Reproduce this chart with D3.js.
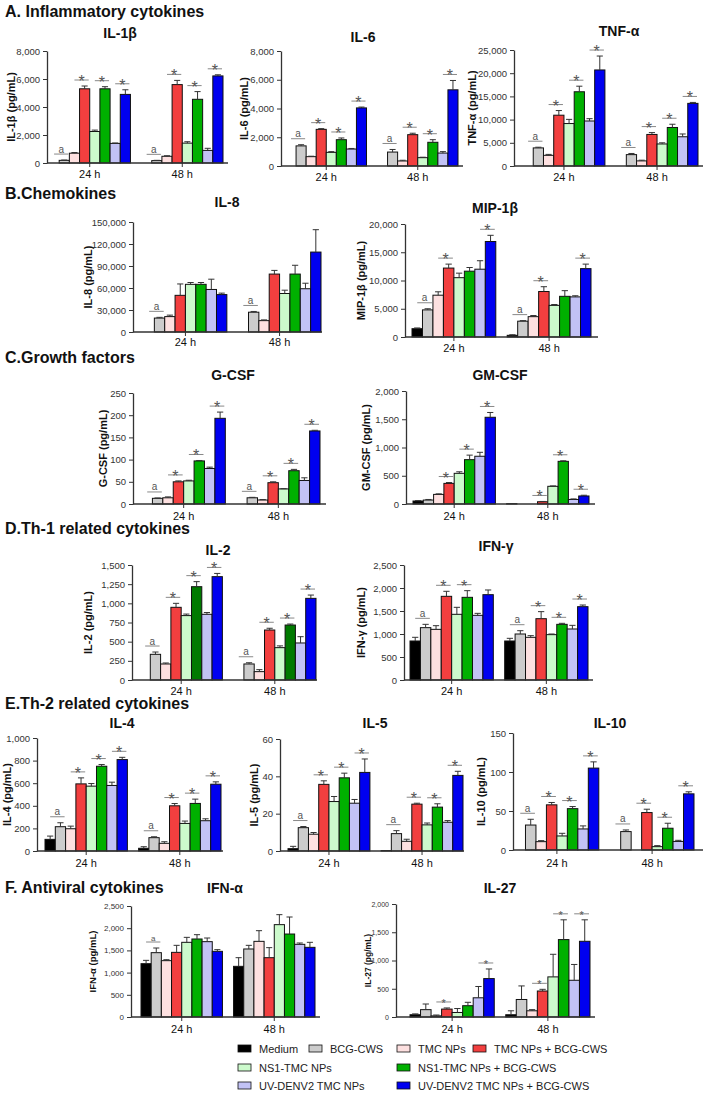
<!DOCTYPE html>
<html>
<head>
<meta charset="utf-8">
<script src="https://cdn.jsdelivr.net/npm/d3@7"></script>
<style>
body { margin: 0; background: #fff; }
svg { display: block; font-family: Arial, "Liberation Sans", sans-serif; }
</style>
</head>
<body>
<svg id="fig" width="706" height="1093"></svg>
<script>
// groups, time points and colours
const groups = ["Medium", "BCG-CWS", "TMC NPs", "TMC NPs + BCG-CWS", "NS1-TMC NPs",
  "NS1-TMC NPs + BCG-CWS", "UV-DENV2 TMC NPs", "UV-DENV2 TMC NPs + BCG-CWS"];
const timepoints = ["24 h", "48 h"];
const colors = ["#000000", "#cccccc", "#fde0e0", "#f23f3f", "#ccfacc", "#00b000", "#c2c2f5", "#0000f0"];

// values: [24 h, 48 h], 8 groups each, mean and upper error
const il1b = [[0, 190, 700, 5300, 2250, 5300, 1400, 4900], [0, 170, 480, 5600, 1420, 4550, 900, 6220]];
const il1bErr = [[0, 20, 50, 200, 100, 150, 30, 330], [0, 20, 40, 300, 100, 550, 150, 80]];
const il6 = [[0, 1400, 650, 2550, 950, 1830, 1180, 4040], [0, 970, 350, 2180, 580, 1650, 900, 5300]];
const il6Err = [[0, 80, 30, 50, 50, 120, 40, 60], [0, 180, 50, 100, 30, 180, 100, 650]];
const tnf = [[0, 3900, 2300, 10950, 9150, 16000, 9700, 20700], [0, 2450, 1100, 6800, 4750, 8300, 6300, 13500]];
const tnfErr = [[0, 150, 200, 1000, 900, 1200, 500, 3000], [0, 250, 150, 400, 250, 700, 600, 200]];
const il8 = [[0, 19000, 21000, 50000, 65000, 65000, 58000, 51000], [0, 27000, 15500, 79000, 52500, 79000, 59000, 109000]];
const il8Err = [[0, 1000, 2000, 15500, 2500, 2500, 14000, 2000], [0, 1000, 1000, 5000, 4500, 12000, 7500, 30500]];
const mip = [[1470, 4800, 7400, 12200, 10500, 11650, 12000, 16900], [300, 2800, 3600, 8050, 5600, 7200, 7100, 12100]];
const mipErr = [[130, 200, 600, 700, 800, 650, 1500, 1100], [100, 100, 200, 850, 150, 1000, 200, 800]];
const gcsf = [[0, 12.8, 14, 50, 52, 97, 80, 193], [0, 14, 9, 48, 34, 75, 53, 164.5]];
const gcsfErr = [[0, 0.8, 2, 2, 1.5, 1, 3, 14], [0, 1, 1, 2, 0.5, 3, 6, 1.5]];
const gmcsf = [[53, 70, 170, 365, 543, 785, 845, 1535], [5, 0, 0, 40, 313, 755, 80, 142]];
const gmcsfErr = [[7, 10, 10, 15, 27, 80, 70, 85], [0, 0, 0, 5, 7, 10, 10, 13]];
const il2 = [[0, 335, 209, 948, 840, 1217, 857, 1348], [0, 209, 109, 652, 422, 717, 483, 1065]];
const il2Err = [[0, 30, 13, 52, 20, 66, 23, 42], [0, 16, 26, 23, 23, 13, 82, 43]];
const ifng = [[848, 1138, 1101, 1819, 1428, 1797, 1406, 1855], [848, 1000, 928, 1333, 986, 1210, 1109, 1594]];
const ifngErr = [[80, 72, 80, 109, 152, 145, 43, 102], [58, 72, 36, 153, 14, 22, 79, 36]];
const il4 = [[103, 215, 197, 594, 574, 750, 580, 809], [24, 118, 68, 400, 244, 421, 268, 591]];
const il4Err = [[29, 35, 23, 53, 23, 15, 29, 20], [14, 8, 14, 20, 21, 38, 17, 21]];
const il5 = [[1.25, 12.5, 9, 35.7, 26.5, 39.2, 25.6, 42.1], [0.2, 9.3, 5.2, 25.1, 14, 23.5, 15.4, 40.5]];
const il5Err = [[1.25, 0.6, 0.9, 1.9, 2.7, 2.5, 2, 7.2], [0, 1.6, 1.1, 0.5, 1, 1.8, 0.9, 2.2]];
const il10 = [[0, 32, 10.7, 57.9, 18, 53, 27, 105], [0, 23.6, 0, 48, 4.3, 27.9, 11, 72]];
const il10Err = [[0, 7.4, 1.3, 3, 3.4, 2.7, 3.9, 8], [0, 2.1, 0, 4.3, 1.3, 6.4, 1.4, 2.6]];
const ifna = [[1201, 1449, 1269, 1456, 1682, 1757, 1697, 1479], [1141, 1532, 1704, 1336, 2080, 1869, 1637, 1569]];
const ifnaErr = [[75, 105, 22, 158, 112, 97, 82, 38], [195, 82, 240, 226, 225, 383, 30, 113]];
const il27 = [[40, 130, 20, 140, 80, 200, 340, 680], [40, 310, 110, 460, 710, 1370, 650, 1340]];
const il27Err = [[15, 100, 15, 20, 70, 60, 200, 170], [70, 240, 20, 30, 400, 350, 280, 380]];

// significance marks: [bar index, symbol] per time point
const sigFull = [[1, "a"], [3, "*"], [5, "*"], [7, "*"]];
const sigA = [[1, "a"]];
const sigMip = [[1, "a"], [3, "*"], [7, "*"]];
const sigStars = [[3, "*"], [5, "*"], [7, "*"]];
const sigIfng24 = [[1, "a"], [3, "*"], [5, "*"]];
const sigIl27_24 = [[3, "*"], [7, "*"]];

// tick values
const ticks8k = [0, 2000, 4000, 6000, 8000];
const ticksTnf = [0, 5000, 10000, 15000, 20000, 25000];
const ticksIl8 = [0, 30000, 60000, 90000, 120000, 150000];
const ticksMip = [0, 5000, 10000, 15000, 20000];
const ticksGcsf = [0, 50, 100, 150, 200, 250];
const ticks2k = [0, 500, 1000, 1500, 2000];
const ticksIl2 = [0, 250, 500, 750, 1000, 1250, 1500];
const ticks2500 = [0, 500, 1000, 1500, 2000, 2500];
const ticksIl4 = [0, 200, 400, 600, 800, 1000];
const ticksIl5 = [0, 20, 40, 60];
const ticksIl10 = [0, 50, 100, 150];

const headers = [
  ["A. Inflammatory cytokines", 17],
  ["B.Chemokines", 199],
  ["C.Growth factors", 363],
  ["D.Th-1 related cytokines", 534],
  ["E.Th-2 related cytokines", 709],
  ["F. Antiviral cytokines", 893]
];

const charts = [
  {title: "IL-1β", yl: "IL-1β (pg/mL)", v: il1b, e: il1bErr, t: ticks8k, s: [sigFull, sigFull],
   L: 47, R: 228, top: 51, bot: 163, bars: [49, 223], tx: 120, ty: 38, lx: 11, xy: 178},
  {title: "IL-6", yl: "IL-6 (pg/mL)", v: il6, e: il6Err, t: ticks8k, s: [sigFull, sigFull],
   L: 281, R: 463, top: 51, bot: 166, bars: [286, 458], tx: 363, ty: 42, lx: 244, xy: 181},
  {title: "TNF-α", yl: "TNF-α (pg/mL)", v: tnf, e: tnfErr, t: ticksTnf, s: [sigFull, sigFull],
   L: 514, R: 703, top: 50, bot: 166, bars: [523, 698], tx: 619, ty: 36, lx: 472, xy: 181},
  {title: "IL-8", yl: "IL-8 (pg/mL)", v: il8, e: il8Err, t: ticksIl8, s: [sigA, sigA],
   L: 133, R: 322, top: 222, bot: 332, bars: [144, 321], tx: 227, ty: 207, lx: 88, xy: 346},
  {title: "MIP-1β", yl: "MIP-1β (pg/mL)", v: mip, e: mipErr, t: ticksMip, s: [sigMip, sigMip],
   L: 405, R: 598, top: 224, bot: 337, bars: [412, 591], tx: 495, ty: 213, lx: 361, xy: 352},
  {title: "G-CSF", yl: "G-CSF (pg/mL)", v: gcsf, e: gcsfErr, t: ticksGcsf, s: [sigFull, sigFull],
   L: 133, R: 326, top: 393, bot: 504, bars: [142, 320], tx: 233, ty: 380, lx: 103, xy: 520},
  {title: "GM-CSF", yl: "GM-CSF (pg/mL)", v: gmcsf, e: gmcsfErr, t: ticks2k, s: [sigStars, sigStars],
   L: 406, R: 595, top: 391, bot: 504, bars: [413, 589], tx: 500, ty: 380, lx: 366, xy: 520},
  {title: "IL-2", yl: "IL-2 (pg/mL)", v: il2, e: il2Err, t: ticksIl2, s: [sigFull, sigFull], dark: true,
   L: 132, R: 317, top: 565, bot: 680, bars: [140, 316], tx: 218, ty: 555, lx: 88, xy: 695},
  {title: "IFN-γ", yl: "IFN-γ (pg/mL)", v: ifng, e: ifngErr, t: ticks2500, s: [sigIfng24, sigFull],
   L: 404, R: 593, top: 565, bot: 680, bars: [410, 588], tx: 496, ty: 551, lx: 361, xy: 695},
  {title: "IL-4", yl: "IL-4 (pg/mL)", v: il4, e: il4Err, t: ticksIl4, s: [sigFull, sigFull],
   L: 37, R: 223, top: 738, bot: 851, bars: [45, 221], tx: 122, ty: 728, lx: 7, xy: 867},
  {title: "IL-5", yl: "IL-5 (pg/mL)", v: il5, e: il5Err, t: ticksIl5, s: [sigFull, sigFull],
   L: 280, R: 464, top: 739, bot: 851, bars: [288, 463], tx: 375, ty: 728, lx: 254, xy: 867},
  {title: "IL-10", yl: "IL-10 (pg/mL)", v: il10, e: il10Err, t: ticksIl10, s: [sigFull, sigFull],
   L: 513, R: 703, top: 733, bot: 850, bars: [515, 694], tx: 610, ty: 728, lx: 481, xy: 867},
  {title: "IFN-α", yl: "IFN-α (pg/mL)", v: ifna, e: ifnaErr, t: ticks2500, s: [sigA, []], small: 8,
   L: 131, R: 320, top: 906, bot: 1017, bars: [141, 315], tx: 225, ty: 893, lx: 92, xy: 1033},
  {title: "IL-27", yl: "IL-27 (pg/mL)", v: il27, e: il27Err, t: ticks2k, s: [sigIl27_24, sigStars], small: 7,
   L: 396, R: 595, top: 904, bot: 1017, bars: [410, 590], tx: 500, ty: 893, lx: 368, xy: 1033}
];

const svg = d3.select("#fig");

headers.forEach(h => {
  svg.append("text").attr("x", 5).attr("y", h[1])
    .attr("font-size", 16).attr("font-weight", "bold").attr("fill", "#111").text(h[0]);
});

function drawChart(c) {
  const g = svg.append("g");
  const y = d3.scaleLinear().domain([0, c.t[c.t.length - 1]]).range([c.bot, c.top]);
  const x0 = d3.scaleBand().domain(timepoints).range(c.bars).paddingInner(0.12);
  const x1 = d3.scaleBand().domain(d3.range(groups.length)).range([0, x0.bandwidth()]);
  const bw = x1.bandwidth();
  const tickFont = c.small || 9.5;

  g.append("text").attr("x", c.tx).attr("y", c.ty).attr("text-anchor", "middle")
    .attr("font-size", 14).attr("font-weight", "bold").attr("fill", "#111").text(c.title);

  g.append("text")
    .attr("transform", `translate(${c.lx},${(c.top + c.bot) / 2}) rotate(-90)`)
    .attr("text-anchor", "middle").attr("dominant-baseline", "central")
    .attr("font-size", c.small ? c.small + 1.5 : 11).attr("font-weight", "bold").attr("fill", "#111")
    .text(c.yl);

  // bars
  timepoints.forEach((tp, ti) => {
    const gg = g.append("g").attr("transform", `translate(${x0(tp)},0)`);
    gg.selectAll("rect").data(c.v[ti]).join("rect")
      .attr("x", (d, i) => x1(i)).attr("width", bw)
      .attr("y", d => y(d)).attr("height", d => c.bot - y(d))
      .attr("fill", (d, i) => (i === 5 && c.dark) ? "#007a00" : colors[i])
      .attr("stroke", "#111").attr("stroke-width", 1);
    // error bars (upper only)
    c.v[ti].forEach((d, i) => {
      const e = c.e[ti][i];
      if (e <= 0) return;
      const cx = x1(i) + bw / 2;
      gg.append("line").attr("x1", cx).attr("x2", cx).attr("y1", y(d)).attr("y2", y(d + e))
        .attr("stroke", "#333").attr("stroke-width", 1);
      gg.append("line").attr("x1", cx - bw * 0.3).attr("x2", cx + bw * 0.3)
        .attr("y1", y(d + e)).attr("y2", y(d + e)).attr("stroke", "#333").attr("stroke-width", 1);
    });
    // significance marks
    c.s[ti].forEach(m => {
      const i = m[0];
      const hi = Math.max(c.v[ti][i - 1] + c.e[ti][i - 1], c.v[ti][i] + c.e[ti][i]);
      const ly = y(hi) - 6;
      const xa = x1(i - 1) + bw / 2, xb = x1(i) + bw - 1;
      const star = m[1] === "*";
      gg.append("line").attr("x1", xa).attr("x2", xb).attr("y1", ly).attr("y2", ly)
        .attr("stroke", "#888").attr("stroke-width", 1);
      gg.append("text").attr("x", (xa + xb) / 2)
        .attr("y", star ? ly + (c.small ? 5 : 7) : ly - 1.5)
        .attr("text-anchor", "middle").attr("fill", "#555")
        .attr("font-size", star ? (c.small ? 11 : 16) : (c.small ? 8 : 10)).text(m[1]);
    });
  });

  // y axis
  const ya = g.append("g").attr("transform", `translate(${c.L},0)`)
    .call(d3.axisLeft(y).tickValues(c.t).tickFormat(d3.format(",")).tickSize(4).tickSizeOuter(0));
  ya.select(".domain").attr("stroke", "#333").attr("stroke-width", 1.3);
  ya.selectAll(".tick line").attr("stroke", "#333");
  ya.selectAll(".tick text").attr("font-size", tickFont).attr("fill", "#333")
    .attr("font-family", "Arial, 'Liberation Sans', sans-serif");

  // x axis
  const xa = g.append("g").attr("transform", `translate(0,${c.bot})`)
    .call(d3.axisBottom(x0).tickSize(4).tickSizeOuter(0));
  xa.select(".domain").remove();
  xa.append("line").attr("x1", c.L).attr("x2", c.R).attr("stroke", "#333").attr("stroke-width", 1.3);
  xa.selectAll(".tick line").attr("stroke", "#333");
  xa.selectAll(".tick text").attr("y", c.xy - c.bot).attr("dy", 0)
    .attr("font-size", 11).attr("fill", "#111")
    .attr("font-family", "Arial, 'Liberation Sans', sans-serif");
}

charts.forEach(drawChart);

// legend
const legendItems = [
  [0, 238, 1049], [1, 309, 1049], [2, 397, 1049], [3, 473, 1049],
  [4, 238, 1068], [5, 397, 1068],
  [6, 238, 1086], [7, 397, 1086]
];
const lg = svg.append("g");
legendItems.forEach(it => {
  const [i, x, yy] = it;
  lg.append("rect").attr("x", x).attr("y", yy - 4).attr("width", 13).attr("height", 7)
    .attr("fill", colors[i]).attr("stroke", "#111").attr("stroke-width", 0.8);
  lg.append("text").attr("x", x + 21).attr("y", yy + 4).attr("font-size", 11).attr("fill", "#222")
    .text(groups[i]);
});
</script>
</body>
</html>
